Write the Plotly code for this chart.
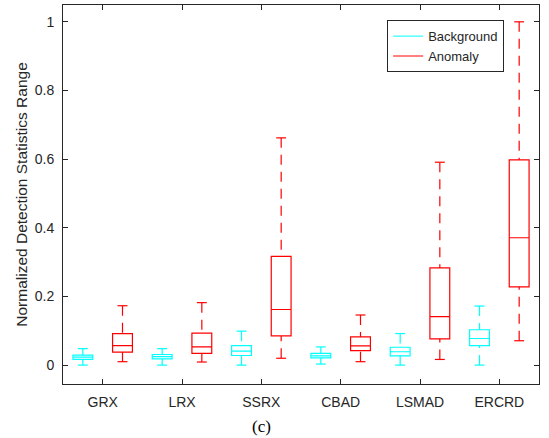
import plotly.graph_objects as go

categories = ["GRX", "LRX", "SSRX", "CBAD", "LSMAD", "ERCRD"]

bg_lower = [0.0, 0.0, 0.0, 0.003, 0.0, 0.0]
bg_q1 = [0.017, 0.018, 0.028, 0.021, 0.027, 0.057]
bg_med = [0.023, 0.025, 0.041, 0.027, 0.039, 0.0775]
bg_q3 = [0.029, 0.031, 0.057, 0.034, 0.052, 0.103]
bg_upper = [0.048, 0.048, 0.099, 0.053, 0.092, 0.172]

an_lower = [0.010, 0.009, 0.020, 0.010, 0.0165, 0.071]
an_q1 = [0.038, 0.034, 0.085, 0.042, 0.0765, 0.228]
an_med = [0.057, 0.053, 0.162, 0.056, 0.1415, 0.371]
an_q3 = [0.092, 0.093, 0.317, 0.082, 0.283, 0.598]
an_upper = [0.173, 0.182, 0.662, 0.146, 0.591, 1.0]

y_ticks = [0, 0.2, 0.4, 0.6, 0.8, 1.0]
y_ticktext = ["0", "0.2", "0.4", "0.6", "0.8", "1"]

CYAN = "#00FFFF"
RED = "#FF0000"
BOX_W = 0.25
OFFSET = 0.25
FONT = "Liberation Sans, Arial, sans-serif"

fig = go.Figure()

groups = [
    ("Background", CYAN, -OFFSET, bg_lower, bg_q1, bg_med, bg_q3, bg_upper),
    ("Anomaly", RED, OFFSET, an_lower, an_q1, an_med, an_q3, an_upper),
]

for name, color, off, lo, q1, med, q3, up in groups:
    xs = [i + 1 + off for i in range(len(categories))]
    # boxes (whiskers drawn separately so they can be dashed)
    fig.add_trace(go.Box(
        x=xs, q1=q1, median=med, q3=q3, lowerfence=q1, upperfence=q3,
        width=BOX_W, whiskerwidth=0, boxpoints=False,
        line=dict(color=color, width=1.2), fillcolor="rgba(0,0,0,0)",
        showlegend=False, hoverinfo="skip",
    ))
    # dashed whiskers (pattern starts at the cap, like MATLAB)
    wx, wy = [], []
    for x, a, b, c, d in zip(xs, lo, q1, q3, up):
        wx += [x, x, None, x, x, None]
        wy += [d, c, None, a, b, None]
    fig.add_trace(go.Scatter(
        x=wx, y=wy, mode="lines",
        line=dict(color=color, width=1.2, dash="10px,7px"),
        showlegend=False, hoverinfo="skip",
    ))
    # whisker caps
    cx, cy = [], []
    half = BOX_W / 4
    for x, a, d in zip(xs, lo, up):
        cx += [x - half, x + half, None, x - half, x + half, None]
        cy += [d, d, None, a, a, None]
    fig.add_trace(go.Scatter(
        x=cx, y=cy, mode="lines",
        line=dict(color=color, width=1.2),
        showlegend=False, hoverinfo="skip",
    ))
    # legend entry
    fig.add_trace(go.Scatter(
        x=[None], y=[None], mode="lines", name=name,
        line=dict(color=color, width=1),
    ))

axis_color = "#262626"
fig.update_layout(
    width=549, height=438,
    margin=dict(l=63, r=10, t=5, b=54),
    paper_bgcolor="white", plot_bgcolor="white",
    font=dict(family=FONT, size=14, color=axis_color),
    boxmode="overlay",
    xaxis=dict(
        range=[0.5, 6.5], tickvals=list(range(1, len(categories) + 1)),
        ticktext=categories, ticks="inside", ticklen=5, tickcolor=axis_color,
        showline=True, linecolor=axis_color, linewidth=1, mirror="allticks",
        showgrid=False, zeroline=False, ticklabelstandoff=5,
    ),
    yaxis=dict(
        range=[-0.055, 1.049], tickvals=y_ticks, ticktext=y_ticktext,
        ticks="inside", ticklen=5, tickcolor=axis_color,
        showline=True, linecolor=axis_color, linewidth=1, mirror="allticks",
        showgrid=False, zeroline=False, ticklabelstandoff=5,
        title=dict(text="Normalized Detection Statistics Range",
                   font=dict(size=15.5, family=FONT), standoff=3),
    ),
    legend=dict(
        x=0.681, y=0.96, xanchor="left", yanchor="top",
        bgcolor="white", bordercolor=axis_color, borderwidth=1,
        font=dict(size=13, family=FONT),
    ),
    annotations=[dict(
        text="(c)", xref="paper", yref="paper", x=0.416, y=-0.113,
        xanchor="center", yanchor="middle", showarrow=False,
        font=dict(family="Liberation Serif, Times New Roman, serif", size=17, color="black"),
    )],
)

fig.write_html("out.html")
